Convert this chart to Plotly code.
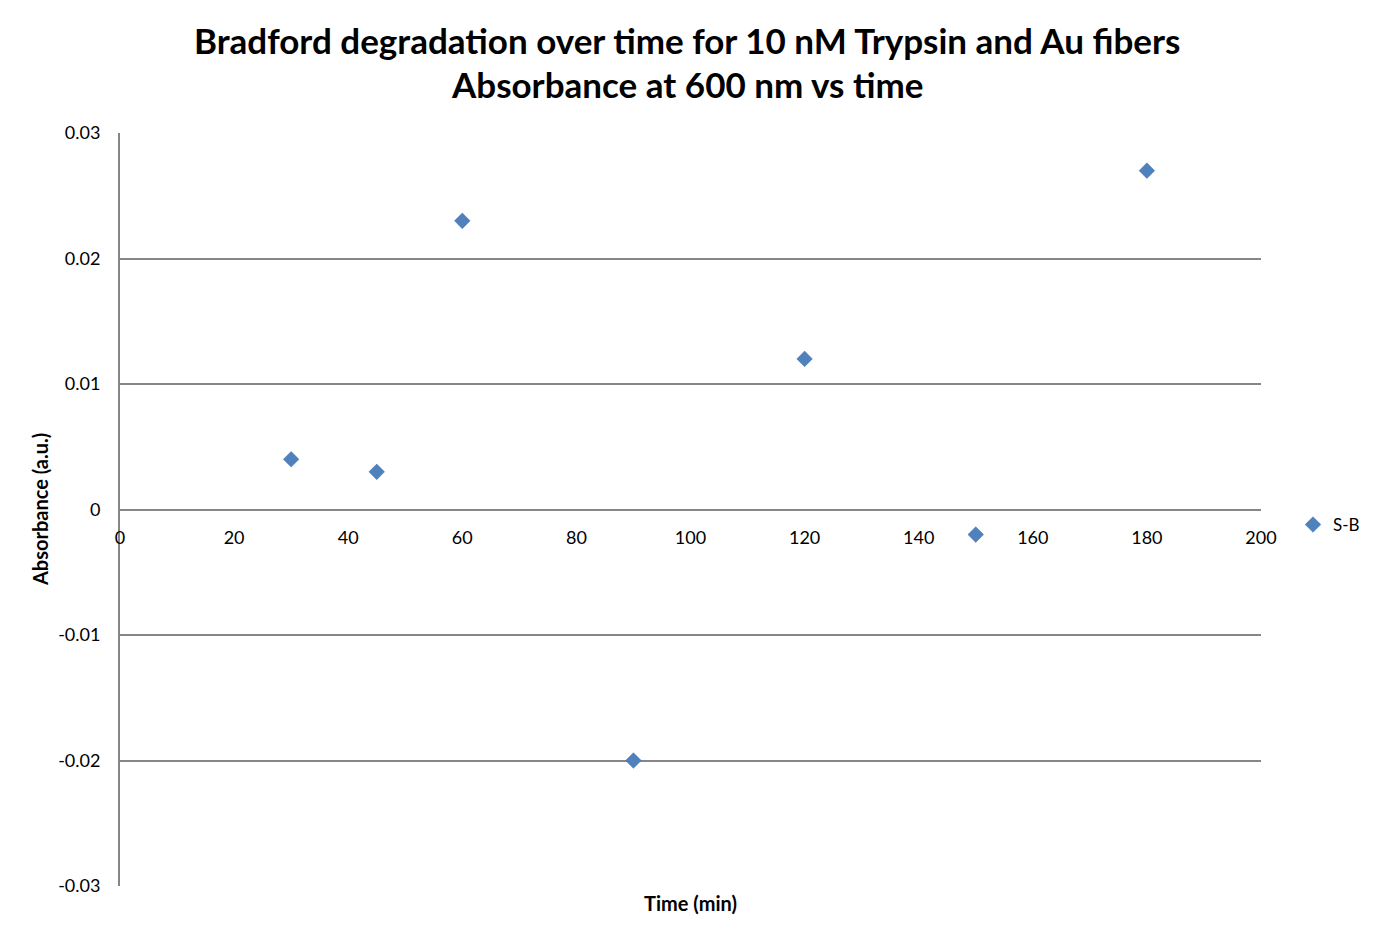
import plotly.graph_objects as go

time_min = [30, 45, 60, 90, 120, 150, 180]
absorbance = [0.004, 0.003, 0.023, -0.02, 0.012, -0.002, 0.027]
series_name = "S-B"
x_ticks = [0, 20, 40, 60, 80, 100, 120, 140, 160, 180, 200]
y_ticks = [-0.03, -0.02, -0.01, 0, 0.01, 0.02, 0.03]
y_tick_labels = ["-0.03", "-0.02", "-0.01", "0", "0.01", "0.02", "0.03"]
title_lines = ["Bradford degradation over time for 10 nM Trypsin and Au fibers",
               "Absorbance at 600 nm vs time"]

FONT = "Lato, Open Sans, sans-serif"
GRID = "#868686"

W, H = 1375, 942
OFF = 8  # page body offset
L, R, T, B = 120 - OFF, W - 1261 + OFF, 133 - OFF, H - 886 + OFF
PH = H - T - B
PW = W - L - R


def py(screen_y):
    return (H - B - (screen_y - OFF)) / PH


def px(screen_x):
    return (screen_x - OFF - L) / PW


fig = go.Figure()
fig.add_trace(go.Scatter(
    x=time_min, y=absorbance, mode="markers", name=series_name,
    marker=dict(symbol="diamond", size=12, color="#4F81BD",
                line=dict(width=0.5, color="#4472A8")),
))

fig.update_layout(
    width=W, height=H,
    paper_bgcolor="white", plot_bgcolor="white",
    margin=dict(l=L, r=R, t=T, b=B, autoexpand=False),
    font=dict(family=FONT, size=18, color="black"),
    showlegend=True,
    legend=dict(x=px(1293), y=py(525), xanchor="left", yanchor="middle",
                itemwidth=30, borderwidth=0,
                font=dict(family=FONT, size=17), bgcolor="rgba(0,0,0,0)"),
    xaxis=dict(
        range=[0, 200], tickvals=x_ticks, ticktext=[str(v) for v in x_ticks],
        anchor="free", position=0.5, showgrid=False, zeroline=False,
        showline=False, ticks="", ticklabelstandoff=15, automargin=False,
        tickfont=dict(family=FONT, size=18),
    ),
    yaxis=dict(
        range=[-0.03, 0.03], tickvals=y_ticks, ticktext=y_tick_labels,
        showgrid=True, gridcolor=GRID, gridwidth=2,
        zeroline=True, zerolinecolor=GRID, zerolinewidth=2,
        showline=True, linecolor=GRID, linewidth=2, ticks="",
        ticklabelstandoff=14, automargin=False,
        tickfont=dict(family=FONT, size=18),
    ),
    annotations=[
        dict(text="<b>%s</b>" % title_lines[0], x=px(687), xref="paper", y=py(40), yref="paper",
             xanchor="center", yanchor="middle", showarrow=False,
             font=dict(family=FONT, size=35)),
        dict(text="<b>%s</b>" % title_lines[1], x=px(687), xref="paper", y=py(84), yref="paper",
             xanchor="center", yanchor="middle", showarrow=False,
             font=dict(family=FONT, size=35)),
        dict(text="<b>Time (min)</b>", x=px(690), xref="paper", y=py(903), yref="paper",
             xanchor="center", yanchor="middle", showarrow=False,
             font=dict(family=FONT, size=20)),
        dict(text="<b>Absorbance (a.u.)</b>", textangle=-90, xref="paper", yref="paper",
             x=px(40), y=py(510), xanchor="center", yanchor="middle", showarrow=False,
             font=dict(family=FONT, size=20)),
    ],
)

fig.write_html("out.html")
